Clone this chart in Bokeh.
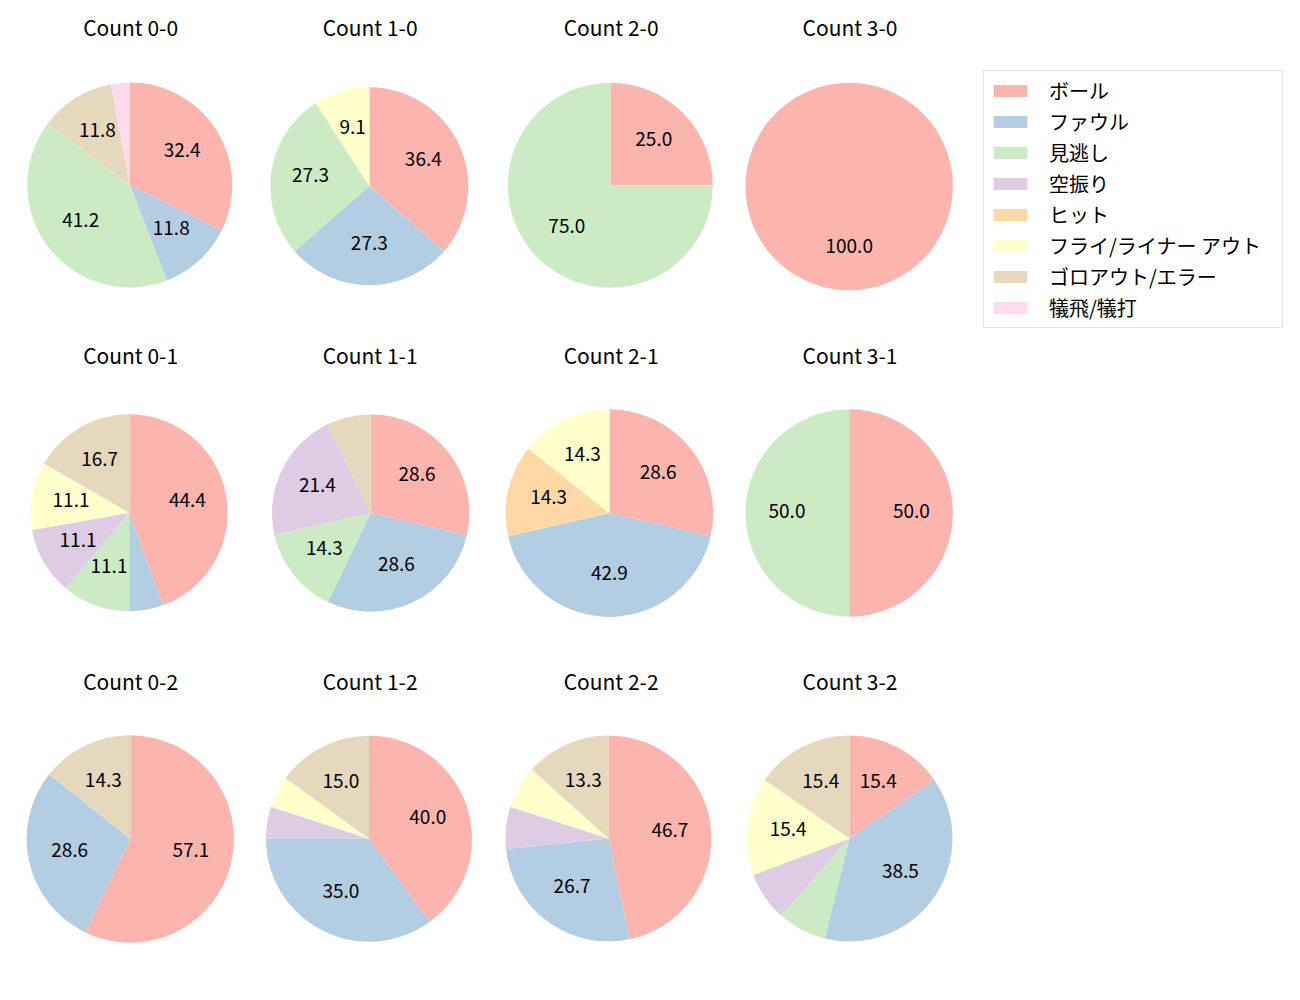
import math
from bokeh.plotting import figure
from bokeh.models import Range1d, ColumnDataSource, Legend, LegendItem
from bokeh.embed import file_html
from bokeh.resources import INLINE
from bokeh.core.properties import value

# ---------------- data ----------------
categories = ["ボール", "ファウル", "見逃し", "空振り", "ヒット",
              "フライ/ライナー アウト", "ゴロアウト/エラー", "犠飛/犠打"]

titles = ["Count 0-0", "Count 1-0", "Count 2-0", "Count 3-0",
          "Count 0-1", "Count 1-1", "Count 2-1", "Count 3-1",
          "Count 0-2", "Count 1-2", "Count 2-2", "Count 3-2"]

# counts per category (same order as categories)
count_0_0 = [11, 4, 14, 0, 0, 0, 4, 1]
count_1_0 = [4, 3, 3, 0, 0, 1, 0, 0]
count_2_0 = [1, 0, 3, 0, 0, 0, 0, 0]
count_3_0 = [1, 0, 0, 0, 0, 0, 0, 0]
count_0_1 = [8, 1, 2, 2, 0, 2, 3, 0]
count_1_1 = [4, 4, 2, 3, 0, 0, 1, 0]
count_2_1 = [2, 3, 0, 0, 1, 1, 0, 0]
count_3_1 = [1, 0, 1, 0, 0, 0, 0, 0]
count_0_2 = [4, 2, 0, 0, 0, 0, 1, 0]
count_1_2 = [8, 7, 0, 1, 0, 1, 3, 0]
count_2_2 = [7, 4, 0, 1, 0, 1, 2, 0]
count_3_2 = [2, 5, 1, 1, 0, 2, 2, 0]

all_counts = [count_0_0, count_1_0, count_2_0, count_3_0,
              count_0_1, count_1_1, count_2_1, count_3_1,
              count_0_2, count_1_2, count_2_2, count_3_2]

# ---------------- style / layout ----------------
colors = ["#fbb4ae", "#b3cde3", "#ccebc5", "#decbe4", "#fed9a6",
          "#ffffcc", "#e5d8bd", "#fddaec"]
FONT = "Noto Sans CJK JP"
W, H = 1284, 984
# pie centres (picture px) and radii
centers = [(129.3, 184.5), (368.8, 185.8), (609.8, 184.8), (848.7, 186.0),
           (128.7, 512.3), (370.2, 512.6), (608.9, 512.6), (848.7, 512.5),
           (129.8, 838.5), (368.5, 838.2), (607.9, 838.0), (849.0, 838.0)]
radii = [102.5, 99.0, 102.5, 103.7,
         98.5, 98.7, 103.8, 103.7,
         103.7, 103.0, 103.0, 103.0]
title_centres = [26.5, 354.0, 680.8]
LABEL_SHIFT = 2.5
LABEL_MIN_PCT = 8.0

p = figure(width=W, height=H, output_backend="svg", toolbar_location=None,
           x_axis_type=None, y_axis_type=None,
           x_range=Range1d(0, W), y_range=Range1d(1000 - H, 1000),
           min_border=0)
p.outline_line_color = None
p.background_fill_color = "white"
p.border_fill_color = "white"

wedge_data = {i: dict(x=[], y=[], r=[], s=[], e=[]) for i in range(len(categories))}
lab = dict(x=[], y=[], t=[])
ttl = dict(x=[], y=[], t=[])

for k, counts in enumerate(all_counts):
    cx, cyp = centers[k]
    cy = 1000 - cyp
    r = radii[k]
    total = float(sum(counts))
    cum = 0.0
    for i, c in enumerate(counts):
        if c == 0:
            continue
        f0 = cum / total
        f1 = (cum + c) / total
        cum += c
        a_start = math.radians(90 - 360 * f1)
        a_end = math.radians(90 - 360 * f0)
        if f1 - f0 >= 0.99999:
            a_start += 1e-4
        d = wedge_data[i]
        d["x"].append(cx); d["y"].append(cy); d["r"].append(r)
        d["s"].append(a_start); d["e"].append(a_end)
        pct = 100.0 * c / total
        if pct >= LABEL_MIN_PCT:
            mid = math.radians(90 - 360 * (f0 + f1) / 2)
            lab["x"].append(cx + 0.6 * r * math.cos(mid))
            lab["y"].append(cy + 0.6 * r * math.sin(mid) + LABEL_SHIFT)
            lab["t"].append(f"{pct:.1f}")
    col = k % 4
    row = k // 4
    ttl["x"].append(centers[col][0] + 0.8)
    ttl["y"].append(1000 - title_centres[row])
    ttl["t"].append(titles[k])

renderers = []
for i, cat in enumerate(categories):
    src = ColumnDataSource(wedge_data[i])
    rr = p.wedge(x="x", y="y", radius="r", start_angle="s", end_angle="e",
                 direction="anticlock", source=src,
                 fill_color=colors[i], line_color=None)
    renderers.append(rr)

p.text(x="x", y="y", text="t", source=ColumnDataSource(lab),
       text_font=value(FONT), text_font_size="19px", text_color="#000000",
       text_align="center", text_baseline="middle")
p.text(x="x", y="y", text="t", source=ColumnDataSource(ttl),
       text_font=value(FONT), text_font_size="21px", text_color="#000000",
       text_align="center", text_baseline="middle")

legend = Legend(items=[LegendItem(label=cat, renderers=[renderers[i]])
                       for i, cat in enumerate(categories)],
                location=(983, H - 328),
                label_text_font=FONT, label_text_font_size="20px",
                label_text_color="#000000",
                glyph_width=42, glyph_height=15, label_standoff=18,
                label_height=18, label_width=228,
                padding=5, spacing=2, margin=0,
                border_line_color="#cccccc", border_line_width=1,
                background_fill_color="white", background_fill_alpha=1.0)
p.add_layout(legend)

open("out.html", "w").write(file_html(p, INLINE))
